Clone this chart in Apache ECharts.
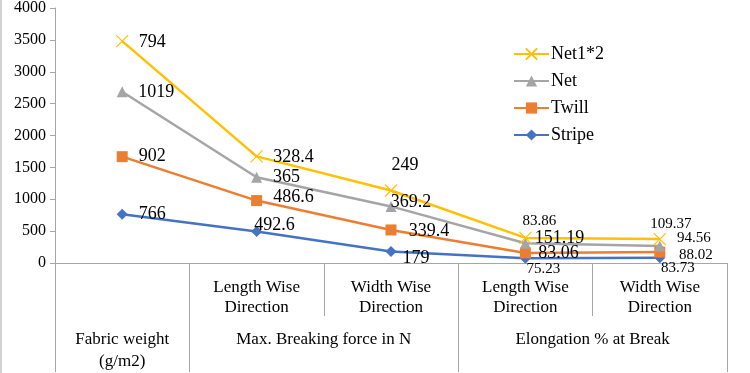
<!DOCTYPE html>
<html><head><meta charset="utf-8">
<script src="https://cdn.jsdelivr.net/npm/echarts@6/dist/echarts.min.js"></script>
<style>html,body{margin:0;padding:0;background:#fff}#c{width:750px;height:373px}</style>
</head><body><div id="c"></div><script>
// ---- data ----
const categories = ['Fabric weight (g/m2)', 'Max. Breaking force in N / Length Wise Direction', 'Max. Breaking force in N / Width Wise Direction', 'Elongation % at Break / Length Wise Direction', 'Elongation % at Break / Width Wise Direction'];
const levelOneLabels = ['', 'Length Wise\nDirection', 'Width Wise\nDirection', 'Length Wise\nDirection', 'Width Wise\nDirection'];
const groupLabels = ['Fabric weight\n(g/m2)', 'Max. Breaking force in N', 'Elongation % at Break'];
const groupSpans = [1, 2, 2];
const legendOrder = ['Net1*2', 'Net', 'Twill', 'Stripe'];
const stripe = [766, 492.6, 179, 75.23, 83.73];
const twill = [902, 486.6, 339.4, 83.06, 88.02];
const net = [1019, 365, 369.2, 151.19, 94.56];
const net12 = [794, 328.4, 249, 83.86, 109.37];
const yMin = 0, yMax = 4000, yStep = 500;

// ---- style ----
const FONT = 'Liberation Serif';
const GRAY = '#a6a6a6';
// label offsets from marker centre [dx, dy, small?]
const labelOffsets = {
  'Net1*2': [[30, 1], [37, 1], [14, -25], [14, -17, 1], [11, -15, 1]],
  'Net':    [[34, 1], [30, 0], [20, -4], [34, -5], [34, -8, 1]],
  'Twill':  [[30, 0], [37, -3], [38, 1], [33, 0], [36, 3, 1]],
  'Stripe': [[30, 0], [18, -6], [25, 6.5], [18, 11, 1], [18, 10.5, 1]]
};

// group axis positions (in half-category units)
const groupBounds = [0];
groupSpans.forEach(s => groupBounds.push(groupBounds[groupBounds.length - 1] + 2 * s));
const groupCenters = groupSpans.map((s, i) => groupBounds[i] + s);
const groupMap = {};
groupCenters.forEach((c, i) => groupMap[c] = groupLabels[i]);

function mkData(name, vals) {
  return vals.map((v, i) => {
    const o = labelOffsets[name][i];
    return { value: v, label: { offset: [o[0], o[1]], fontSize: o[2] ? 15 : 18 } };
  });
}

function mkSeries(name, vals, color, symbol, size, extraItem) {
  return {
    name, type: 'line', stack: 'total', data: mkData(name, vals),
    symbol, symbolSize: size,
    lineStyle: { color, width: 2.5 },
    itemStyle: Object.assign({ color }, extraItem || {}),
    label: { show: true, position: 'inside', align: 'center', verticalAlign: 'middle',
             color: '#000', fontFamily: FONT, fontSize: 18 },
    emphasis: { disabled: true }
  };
}

const chart = echarts.init(document.getElementById('c'), null, { renderer: 'canvas' });
chart.setOption({
  animation: false,
  backgroundColor: '#fff',
  textStyle: { fontFamily: FONT, color: '#000' },
  grid: { left: 55, right: 23, top: 5, bottom: 108, containLabel: false },
  legend: {
    orient: 'vertical', left: 513, top: 45, padding: 0,
    itemWidth: 35, itemHeight: 14, itemGap: 9,
    data: legendOrder,
    formatter: n => '{t|' + n + '}',
    textStyle: { fontFamily: FONT, fontSize: 18, color: '#000',
                 rich: { t: { fontFamily: FONT, fontSize: 18, color: '#000', padding: [0, 0, 0, -3] } } }
  },
  xAxis: [{
    type: 'category', data: categories, boundaryGap: true,
    axisLine: { lineStyle: { color: GRAY, width: 1 } },
    axisTick: { show: true, interval: 0, length: 53, lineStyle: { color: GRAY } },
    axisLabel: { interval: 0, margin: 15, fontFamily: FONT, fontSize: 17, lineHeight: 20, color: '#000',
                 formatter: (v, i) => levelOneLabels[i] }
  }, {
    type: 'value', min: groupBounds[0], max: groupBounds[groupBounds.length - 1],
    position: 'bottom', offset: 53, splitLine: { show: false },
    axisLine: { show: false },
    axisTick: { show: true, customValues: groupBounds, length: 56, lineStyle: { color: GRAY } },
    axisLabel: { customValues: groupCenters, margin: 13, fontFamily: FONT, fontSize: 17, lineHeight: 22,
                 color: '#000', formatter: v => groupMap[v] || '' }
  }],
  yAxis: {
    type: 'value', min: yMin, max: yMax, interval: yStep,
    axisLine: { show: true, lineStyle: { color: GRAY } },
    axisTick: { show: true, length: 5, lineStyle: { color: GRAY } },
    splitLine: { show: false },
    axisLabel: { margin: 9, fontFamily: FONT, fontSize: 16, color: '#000', formatter: v => String(v) }
  },
  graphic: [{ type: 'line', shape: { x1: 1, y1: 0, x2: 1, y2: 373 }, style: { stroke: GRAY, lineWidth: 1 }, silent: true }],
  series: [
    mkSeries('Stripe', stripe, '#4472C4', 'diamond', 11),
    mkSeries('Twill', twill, '#ED7D31', 'rect', 11),
    mkSeries('Net', net, '#A5A5A5', 'triangle', 11),
    mkSeries('Net1*2', net12, '#FFC000', 'path://M0,0L10,10M10,0L0,10', 12,
             { borderColor: '#FFC000', borderWidth: 1.2 })
  ]
});
</script></body></html>
